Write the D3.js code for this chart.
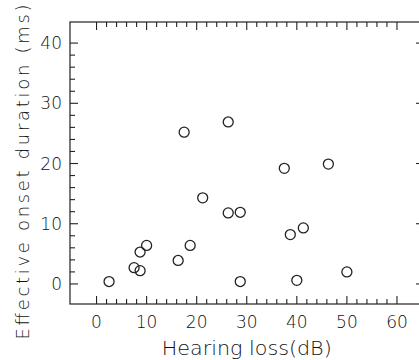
<!DOCTYPE html>
<html><head><meta charset="utf-8">
<script src="https://cdn.jsdelivr.net/npm/d3@7"></script>
<style>
html,body{margin:0;padding:0;background:#fff;}
svg{display:block;}
text{font-family:"DejaVu Sans",sans-serif;fill:#111;font-weight:200;}
</style></head>
<body>
<script>
const hearingLoss = [2.5, 17.5, 26.3, 37.5, 46.3, 21.2, 26.3, 28.7, 38.7, 41.3, 10.0, 8.7, 18.7, 16.3, 7.5, 8.7, 28.7, 40.0, 50.0];
const onsetDuration = [0.4, 25.2, 26.9, 19.2, 19.9, 14.3, 11.8, 11.9, 8.2, 9.3, 6.4, 5.3, 6.4, 3.9, 2.7, 2.2, 0.4, 0.6, 2.0];
const xTicks = [0, 10, 20, 30, 40, 50, 60];
const yTicks = [0, 10, 20, 30, 40];
const xMinor = d3.range(0, 61, 2);
const yMinor = d3.range(0, 41, 2);
const xTitle = "Hearing loss(dB)";
const yTitle = "Effective onset duration (ms)";

const W = 419, H = 360;
const svg = d3.select("body").append("svg").attr("width", W).attr("height", H);
const x = d3.scaleLinear().domain([-5.3, 65.4]).range([70, 424]);
const y = d3.scaleLinear().domain([-3.33, 43.5]).range([304, 22]);
const [x0, x1] = x.range(), [y0, y1] = y.range();
const ink = "#222";

// frame
svg.append("rect").attr("x", x0).attr("y", y1).attr("width", x1 - x0).attr("height", y0 - y1)
  .attr("fill", "none").attr("stroke", ink).attr("stroke-width", 1.2);

const g = svg.append("g").attr("stroke", ink).attr("stroke-width", 1.1);
function tl(v, major) { return major ? 8 : 5; }
xMinor.forEach(v => {
  const L = tl(v, v % 10 === 0);
  g.append("line").attr("x1", x(v)).attr("x2", x(v)).attr("y1", y0).attr("y2", y0 - L);
  g.append("line").attr("x1", x(v)).attr("x2", x(v)).attr("y1", y1).attr("y2", y1 + L);
});
yMinor.forEach(v => {
  const L = tl(v, v % 10 === 0);
  g.append("line").attr("y1", y(v)).attr("y2", y(v)).attr("x1", x0).attr("x2", x0 + L);
  g.append("line").attr("y1", y(v)).attr("y2", y(v)).attr("x1", x1).attr("x2", x1 - L);
});

svg.selectAll(".xt").data(xTicks).join("text").attr("class", "xt")
  .attr("x", d => x(d)).attr("y", y0 + 24).attr("text-anchor", "middle")
  .attr("font-size", 17).text(d => d);
svg.selectAll(".yt").data(yTicks).join("text").attr("class", "yt")
  .attr("x", x0 - 8).attr("y", d => y(d) + 6).attr("text-anchor", "end")
  .attr("font-size", 17).text(d => d);

svg.append("text").attr("x", x(30)).attr("y", 355).attr("text-anchor", "middle")
  .attr("font-size", 20).attr("textLength", 170).attr("lengthAdjust", "spacingAndGlyphs").text(xTitle);
svg.append("text").attr("transform", "translate(29,172) rotate(-90)").attr("text-anchor", "middle")
  .attr("font-size", 18).attr("textLength", 335).attr("lengthAdjust", "spacing").text(yTitle);

svg.selectAll("circle").data(hearingLoss).join("circle")
  .attr("cx", d => x(d)).attr("cy", (d, i) => y(onsetDuration[i])).attr("r", 5)
  .attr("fill", "none").attr("stroke", ink).attr("stroke-width", 1.3);
</script>
</body></html>
